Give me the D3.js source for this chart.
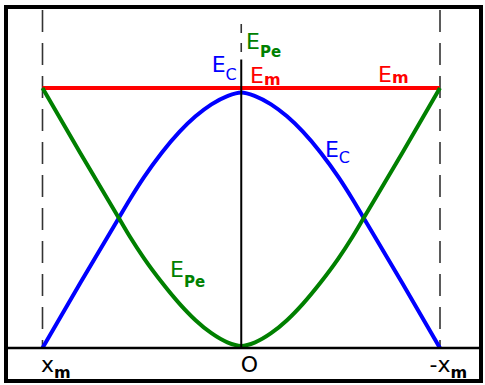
<!DOCTYPE html>
<html>
<head>
<meta charset="utf-8">
<script src="https://cdn.jsdelivr.net/npm/d3@7"></script>
<style>
  html, body { margin: 0; padding: 0; background: #fff; }
  svg { display: block; font-family: "DejaVu Sans", Verdana, sans-serif; }
</style>
</head>
<body>
<svg id="chart" width="485" height="385"></svg>
<script>
// Elongation, in units of the amplitude x_m (left edge = x_m, right edge = -x_m)
const positions = [-1, -0.81, -0.616, -0.56, -0.49, -0.4, -0.31, -0.23, -0.15, -0.07, 0,
                   0.07, 0.15, 0.23, 0.31, 0.4, 0.49, 0.56, 0.616, 0.81, 1];
// Kinetic energy E_C, in units of E_m
const kineticEnergy = [0, 0.25, 0.5, 0.572, 0.656, 0.751, 0.832, 0.891, 0.937, 0.969, 0.983,
                       0.969, 0.937, 0.891, 0.832, 0.751, 0.656, 0.572, 0.5, 0.25, 0];
// Elastic potential energy E_Pe, in units of E_m
const potentialEnergy = [1, 0.75, 0.5, 0.428, 0.346, 0.253, 0.17, 0.107, 0.057, 0.022, 0.008,
                         0.022, 0.057, 0.107, 0.17, 0.253, 0.346, 0.428, 0.5, 0.75, 1];
// Mechanical energy E_m (constant)
const mechanicalPositions = [-1, 1];
const mechanicalEnergy = [1, 1];
// Horizontal axis ticks
const tickValues = [-1, 0, 1];
const tickMain = ["x", "O", "-x"];
const tickSub = ["m", "", "m"];

const svg = d3.select("#chart");
const x = d3.scaleLinear().domain([-1, 1]).range([42.5, 440]);
const y = d3.scaleLinear().domain([0, 1]).range([348, 88]);

const BLUE = "#0000ff", GREEN = "#008000", RED = "#ff0000";

// outer frame
svg.append("rect")
  .attr("x", 6).attr("y", 7).attr("width", 475).attr("height", 374)
  .attr("fill", "none").attr("stroke", "#000").attr("stroke-width", 4);

// dashed amplitude markers
[-1, 1].forEach(v => {
  svg.append("line")
    .attr("x1", x(v)).attr("x2", x(v))
    .attr("y1", 10).attr("y2", y(0))
    .attr("stroke", "#333").attr("stroke-width", 1.6)
    .attr("stroke-dasharray", "22,11");
});

// energy curves
const line = d3.line().curve(d3.curveMonotoneX);

svg.append("path")
  .attr("d", line(mechanicalPositions.map((p, i) => [x(p), y(mechanicalEnergy[i])])))
  .attr("fill", "none").attr("stroke", RED).attr("stroke-width", 4);

svg.append("path")
  .attr("d", line(positions.map((p, i) => [x(p), y(kineticEnergy[i])])))
  .attr("fill", "none").attr("stroke", BLUE).attr("stroke-width", 4)
  .attr("stroke-linejoin", "round");

svg.append("path")
  .attr("d", line(positions.map((p, i) => [x(p), y(potentialEnergy[i])])))
  .attr("fill", "none").attr("stroke", GREEN).attr("stroke-width", 4)
  .attr("stroke-linejoin", "round");

// vertical energy axis through the origin
svg.append("line")
  .attr("x1", x(0)).attr("x2", x(0)).attr("y1", 24).attr("y2", 58)
  .attr("stroke", "#333").attr("stroke-width", 1.6).attr("stroke-dasharray", "9,10");
svg.append("line")
  .attr("x1", x(0)).attr("x2", x(0)).attr("y1", y(1.11)).attr("y2", y(0))
  .attr("stroke", "#000").attr("stroke-width", 2);

// horizontal axis spanning the frame
svg.append("line")
  .attr("x1", 6).attr("x2", 481).attr("y1", y(0)).attr("y2", y(0))
  .attr("stroke", "#000").attr("stroke-width", 2.5);

const axis = d3.axisBottom(x).tickValues(tickValues).tickSize(0).tickFormat((d, i) => tickMain[i]);
const gAxis = svg.append("g").attr("transform", `translate(0,${y(0)})`).call(axis);
gAxis.select(".domain").remove();
const tickShift = [-2, -1, -11];
gAxis.selectAll(".tick text").each(function (d, i) {
  const t = d3.select(this)
    .attr("text-anchor", "start").attr("x", tickShift[i]).attr("y", 24).attr("dy", null)
    .attr("fill", "#000").style("font-size", "22px")
    .style("font-family", "'DejaVu Sans', Verdana, sans-serif")
    .text(null);
  t.append("tspan").text(tickMain[i]);
  if (tickSub[i]) {
    t.append("tspan").attr("dy", 6).style("font-size", "16px").style("font-weight", "bold").text(tickSub[i]);
  }
});

// energy labels
const labels = [
  { main: "E", sub: "Pe", px: 0.024,  py: 1.15,  dy: 8,  subSize: 15, subBold: true,  color: GREEN },
  { main: "E", sub: "C",  px: -0.149, py: 1.062, dy: 8,  subSize: 16, subBold: false, color: BLUE },
  { main: "E", sub: "m",  px: 0.044,  py: 1.019, dy: 2,  subSize: 16, subBold: true,  color: RED },
  { main: "E", sub: "m",  px: 0.688,  py: 1.023, dy: 1,  subSize: 16, subBold: true,  color: RED },
  { main: "E", sub: "C",  px: 0.421,  py: 0.735, dy: 6,  subSize: 16, subBold: false, color: BLUE },
  { main: "E", sub: "Pe", px: -0.358, py: 0.275, dy: 10, subSize: 15, subBold: true,  color: GREEN }
];
labels.forEach(l => {
  const t = svg.append("text")
    .attr("x", x(l.px)).attr("y", y(l.py))
    .attr("fill", l.color).style("font-size", "22px");
  t.append("tspan").text(l.main);
  t.append("tspan").attr("dy", l.dy)
    .style("font-size", l.subSize + "px")
    .style("font-weight", l.subBold ? "bold" : "normal")
    .text(l.sub);
});
</script>
</body>
</html>
